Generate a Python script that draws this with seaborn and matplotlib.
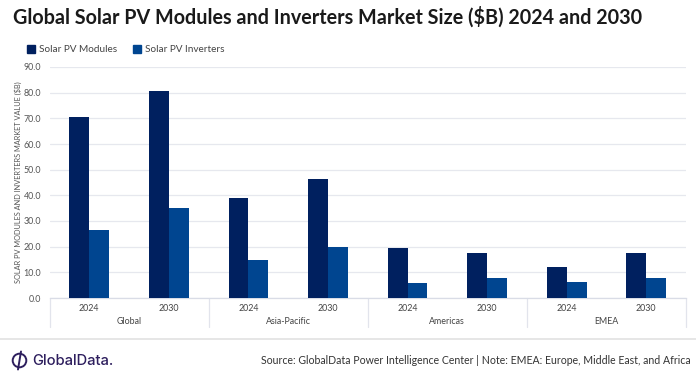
import matplotlib
matplotlib.use("Agg")
import matplotlib.pyplot as plt
from matplotlib.lines import Line2D
from matplotlib.patches import Circle
import pandas as pd
import seaborn as sns

regions = ["Global", "Asia-Pacific", "Americas", "EMEA"]
years = ["2024", "2030"]
modules = [70.5, 80.7, 38.8, 46.2, 19.6, 17.4, 12.2, 17.4]
inverters = [26.6, 35.0, 14.7, 19.8, 5.8, 7.7, 6.1, 7.6]
series = ["Solar PV Modules", "Solar PV Inverters"]
colors = ["#00205F", "#004590"]
yticks = [0, 10, 20, 30, 40, 50, 60, 70, 80, 90]

sns.set_theme(style="white")
plt.rcParams["font.family"] = ["Lato", "DejaVu Sans"]

W, H = 696, 375
fig = plt.figure(figsize=(W / 100, H / 100), dpi=100, facecolor="white")
ax = fig.add_axes([49.5 / W, 1 - 298 / H, (686 - 49.5) / W, (298 - 67) / H])

cats = [f"{r} {y}" for r in regions for y in years]
df = pd.DataFrame({
    "cat": cats * 2,
    "series": [series[0]] * 8 + [series[1]] * 8,
    "value": modules + inverters,
})
sns.barplot(data=df, x="cat", y="value", hue="series", order=cats, hue_order=series,
            palette=colors, width=0.5, saturation=1, legend=False, ax=ax, zorder=3,
            linewidth=0, edgecolor="none")

ax.set_xlim(-0.5, 7.5)
ax.set_ylim(0, 90)
ax.set_yticks(yticks)
ax.set_yticklabels([f"{v:.1f}" for v in yticks], fontsize=6.4, color="#555555")
ax.set_xticks(range(8))
ax.set_xticklabels(years * 4, fontsize=6.4, color="#444444")
ax.tick_params(axis="x", length=0, pad=4)
ax.tick_params(axis="y", length=0, pad=6)
ax.set_xlabel("")
ax.set_ylabel("SOLAR PV MODULES AND INVERTERS MARKET VALUE ($B)", fontsize=5.3,
              color="#555555", labelpad=1, y=0.5)
ax.grid(axis="y", color="#E6E8EE", linewidth=0.9, zorder=0)
ax.grid(axis="x", visible=False)
ax.set_axisbelow(True)
for s in ax.spines.values():
    s.set_visible(False)
ax.spines["bottom"].set_visible(True)
ax.spines["bottom"].set_color("#D9DCE6")
ax.spines["bottom"].set_linewidth(0.9)

# Multi-level category axis: separators and region labels
trans = ax.get_xaxis_transform()
for x in [-0.5, 1.5, 3.5, 5.5, 7.5]:
    ax.add_line(Line2D([x, x], [0, -29 / 231], transform=trans, color="#E2E4EC",
                       linewidth=0.9, clip_on=False))
for i, r in enumerate(regions):
    ax.text(2 * i + 0.5, -26 / 231, r, transform=trans, ha="center", va="baseline",
            fontsize=6.4, color="#444444")

# Title
fig.text(13 / W, 1 - 24 / H, "Global Solar PV Modules and Inverters Market Size ($B) 2024 and 2030",
         fontsize=14.2, fontweight="bold", color="#1A1A1A", va="baseline")

# Legend
handles = [plt.Rectangle((0, 0), 1, 1, color=c) for c in colors]
fig.legend(handles, series, loc="center left", bbox_to_anchor=(27 / W, 1 - 49.5 / H),
           ncol=2, frameon=False, fontsize=7.2, labelcolor="#444444", borderpad=0,
           handlelength=0.8, handleheight=0.8, handletextpad=0.4, columnspacing=1.6,
           borderaxespad=0)

# Footer rule
fig.add_artist(Line2D([0, 1], [1 - 339 / H, 1 - 339 / H], transform=fig.transFigure,
                      color="#E2E2E2", linewidth=1.2))

# Logo
overlay = fig.add_axes([0, 0, 1, 1], facecolor="none")
overlay.set_xlim(0, W)
overlay.set_ylim(H, 0)
overlay.axis("off")
overlay.add_patch(Circle((19.5, 360.5), 6.8, fill=False, edgecolor="#2E1F5E", linewidth=1.4))
overlay.add_line(Line2D([21, 18], [351.5, 369.5], color="#2E1F5E", linewidth=1.4))
overlay.text(32, 365, "GlobalData.", fontsize=10.6, color="#2E1F5E", va="baseline",
             family=["Inter", "DejaVu Sans"], fontweight="medium")

# Source
fig.text(691 / W, 1 - 363.5 / H,
         "Source: GlobalData Power Intelligence Center | Note: EMEA: Europe, Middle East, and Africa",
         fontsize=7.6, color="#333333", ha="right", va="baseline")

fig.savefig("out.png", dpi=100, facecolor="white")
